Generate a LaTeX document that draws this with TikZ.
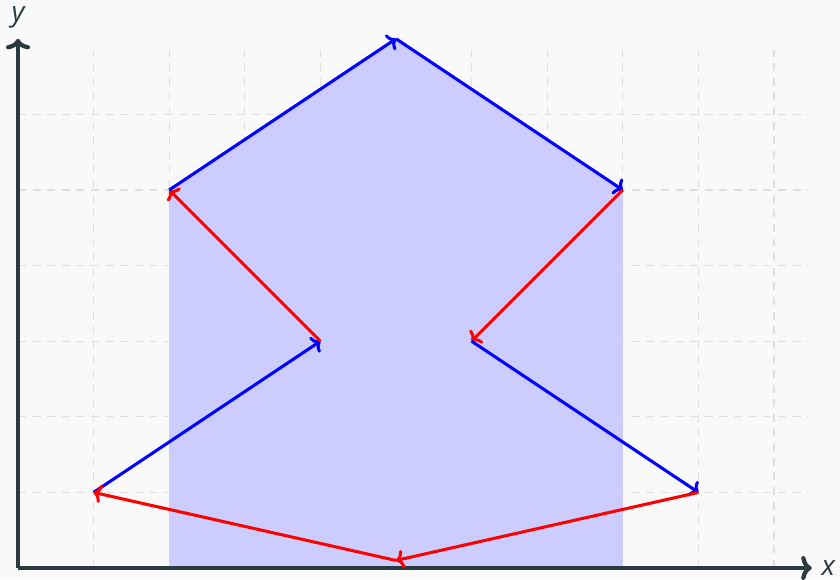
\documentclass[tikz,border=0pt]{standalone}
\usepackage{fontspec}
\setsansfont{Open Sans}
\usetikzlibrary{arrows.meta}
\definecolor{axiscol}{HTML}{2B3A40}
\definecolor{bgcol}{HTML}{F9F9F9}
\definecolor{gridcol}{HTML}{DEDEDE}
\definecolor{fillcol}{HTML}{CCCCFF}
\tikzset{
  gridline/.style={draw=gridcol, line width=0.5pt, dash pattern=on 3pt off 2.5pt},
  axisline/.style={draw=axiscol, line width=1.6pt, -{To[length=4pt,width=9pt,line width=1.6pt]}},
  bluearrow/.style={draw=blue, line width=1.15pt, -{To[length=3pt,width=7pt]}},
  redarrow/.style={draw=red, line width=1.15pt, -{To[length=3pt,width=7pt]}},
  axislabel/.style={text=axiscol, font=\sffamily\itshape\fontsize{10.5}{12}\selectfont, inner sep=0pt}
}
\begin{document}
\begin{tikzpicture}
\fill[bgcol] (-0.2381,-0.1455) rectangle (10.873,7.5132);
\useasboundingbox (-0.2381,-0.1455) rectangle (10.873,7.5132);
% grid
\foreach \i in {1,...,10} \draw[gridline] (\i,0) -- (\i,6.85);
\foreach \j in {1,...,6} \draw[gridline] (0,\j) -- (10.45,\j);
% fill
\fill[fillcol] (2,0) -- (2,5) -- (5,7) -- (8,5) -- (8,0) -- cycle;
% points
\coordinate (O) at (0,0);
\coordinate (A) at (1,1);
\coordinate (B) at (4,3);
\coordinate (C) at (2,5);
\coordinate (D) at (5,7);
\coordinate (E) at (8,5);
\coordinate (F) at (6,3);
\coordinate (G) at (9,1);
\coordinate (H) at (5,0.1);
\coordinate (XE) at (10.5,0);
\coordinate (YE) at (0,7);
% axes
\draw[axisline] (O) -- (XE);
\draw[axisline] (O) -- (YE);
\node[axislabel] (xl) at (10.72,0) {x};
\node[axislabel] (yl) at (0,7.28) {y};
% arrows
\draw[bluearrow] (A) -- (B);
\draw[redarrow] (B) -- (C);
\draw[bluearrow] (C) -- (D);
\draw[bluearrow] (D) -- (E);
\draw[redarrow] (E) -- (F);
\draw[bluearrow] (F) -- (G);
\draw[redarrow] (G) -- (H);
\draw[redarrow] (H) -- (A);
\end{tikzpicture}
\end{document}
